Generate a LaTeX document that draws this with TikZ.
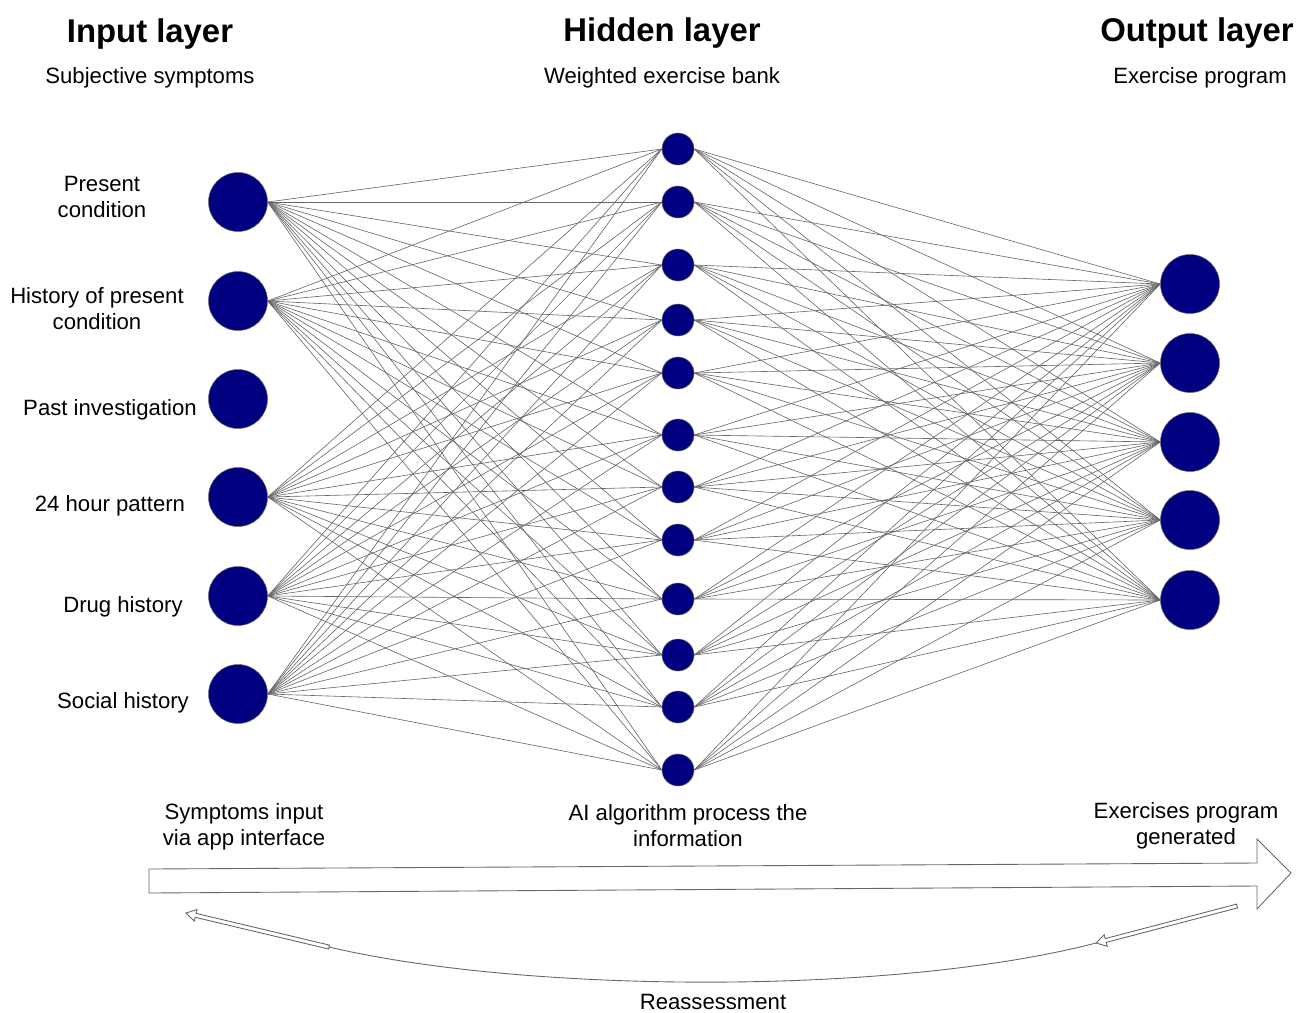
\documentclass[tikz,border=0pt]{standalone}
\usepackage{fontspec}
\setmainfont{Liberation Sans}
\usetikzlibrary{calc}
\definecolor{navyblue}{RGB}{0,0,128}

\tikzset{
  neuron/.style={circle, fill=navyblue, draw=black!60, line width=0.3pt, inner sep=0pt},
  bigneuron/.style={neuron, minimum size=1.18cm},
  smallneuron/.style={neuron, minimum size=0.64cm},
  conn/.style={draw=black!60, line width=0.35pt},
  layertitle/.style={font=\bfseries\fontsize{18.7}{22}\selectfont},
  txt/.style={font=\fontsize{12.6}{14.8}\selectfont, align=center},
  outline/.style={draw=black!60, line width=0.5pt, line join=miter}
}

\begin{document}
\begin{tikzpicture}[x=0.02cm, y=-0.02cm]
\useasboundingbox (0,0) rectangle (1299,1012);

% headings
\node[layertitle] (tin) at (150,34) {Input layer};
\node[layertitle] (thid) at (662,33) {Hidden layer};
\node[layertitle] (tout) at (1197,33) {Output layer};
\node[txt] (sin) at (150,78) {Subjective symptoms};
\node[txt] (shid) at (662,78) {Weighted exercise bank};
\node[txt] (sout) at (1200,78) {Exercise program};

% layers
\foreach \y [count=\k] in {202,301,399,497,596,694}
	\node[bigneuron] (in\k) at (238,\y) {};
\foreach \y [count=\k] in {149,202,265,320,373,435,487,540,599,655,707,770}
	\node[smallneuron] (hid\k) at (678,\y) {};
\foreach \y [count=\k] in {284,363,442,520,600}
	\node[bigneuron] (out\k) at (1190,\y) {};

% input labels
\node[txt] (lin1) at (102,197) {Present\\condition};
\node[txt] (lin2) at (97,309) {History of present\\condition};
\node[txt] (lin3) at (110,410) {Past investigation};
\node[txt] (lin4) at (110,506) {24 hour pattern};
\node[txt] (lin5) at (123,607) {Drug history};
\node[txt] (lin6) at (123,703) {Social history};

% weights
\foreach \i in {1,2,4,5,6}
	\foreach \h in {1,...,12}
		\draw[conn] (in\i.east) -- (hid\h.west);
\foreach \h in {1,...,12}
	\foreach \o in {1,...,5}
		\draw[conn] (hid\h.east) -- (out\o.west);

% process arrow
\node[txt] (step1) at (244,827) {Symptoms input\\via app interface};
\node[txt] (step2) at (688,826) {AI algorithm process the\\information};
\node[txt] (step3) at (1186,826) {Exercises program\\generated};
\draw[outline] (149,869) -- (1257,863) -- (1257,839) -- (1291,873) -- (1257,909)
	-- (1257,886) -- (149,893) -- cycle;

% reassessment loop
\coordinate (rtail) at (1237,906);
\coordinate (rtip) at (1096,943);
\coordinate (ltail) at (329,947);
\coordinate (ltip) at (186,913);
\draw[outline] (1237.5,907.9) -- (1106.2,942.4) -- (1107.2,946.3) -- (rtip)
	-- (1104.2,934.7) -- (1105.2,938.6) -- (1236.5,904.1) -- cycle;
\draw[outline] (329.5,945.1) -- (196.2,913.4) -- (197.1,909.5) -- (ltip)
	-- (194.3,921.1) -- (195.2,917.3) -- (328.5,949.0) -- cycle;
\draw[outline] (rtip) .. controls (896,995) and (529,994) .. (ltail);
\node[txt, inner sep=0pt] (reass) at (713,1002) {Reassessment};
\end{tikzpicture}
\end{document}
